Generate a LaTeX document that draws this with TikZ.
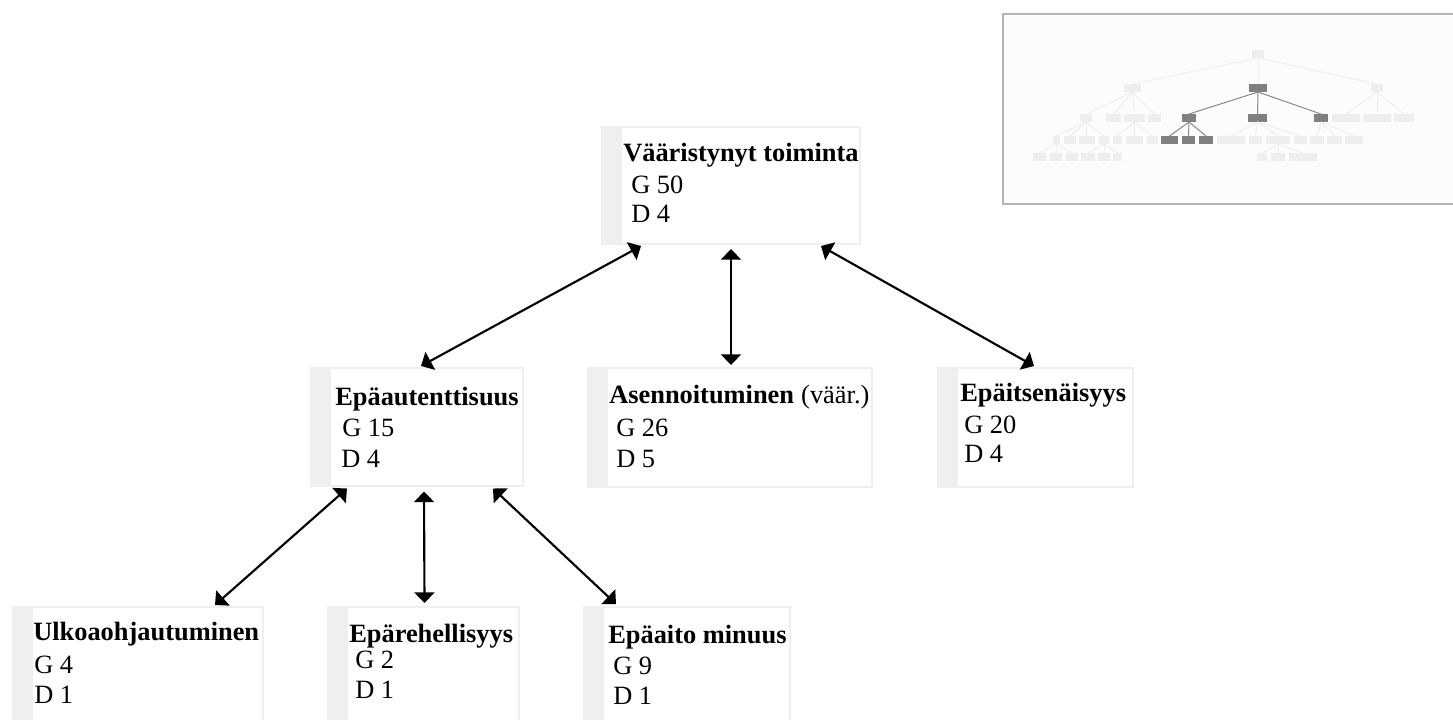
\documentclass[tikz,border=0pt]{standalone}
\usepackage{fontspec}
\setmainfont{Liberation Serif}
\usetikzlibrary{arrows.meta,calc}

\definecolor{kehys}{HTML}{EFEFEF}
\definecolor{minivaalea}{HTML}{EEEEEE}
\definecolor{minitumma}{HTML}{808080}
\definecolor{viivatumma}{HTML}{8A8A8A}
\definecolor{karttareuna}{HTML}{B4B4B4}
\definecolor{karttatausta}{HTML}{FCFCFC}

\tikzset{
  kbox/.style={draw=kehys, line width=1.5pt, fill=white, inner sep=0pt, outer sep=0pt,
    path picture={\fill[kehys] (path picture bounding box.south west) rectangle ([xshift=15pt]path picture bounding box.north west);}},
  otsikko/.style={anchor=base west, inner sep=0pt, font=\fontsize{19.8}{23}\selectfont\bfseries},
  luku/.style={anchor=base west, inner sep=0pt, font=\fontsize{19.8}{23}\selectfont},
  yhteys/.style={{Triangle[width=15pt,length=8pt]}-{Triangle[width=15pt,length=8pt]}, line width=1.6pt},
  mini/.style={rectangle, inner sep=0pt, outer sep=0pt, minimum height=6pt},
  miniviiva/.style={draw=minivaalea, line width=0.75pt},
}

\begin{document}
\begin{tikzpicture}[x=0.75pt,y=-0.75pt]
  \useasboundingbox (0,0) rectangle (1453,719);
  \fill[white] (0,0) rectangle (1453,719);

  % laatikot
  \path
  node[kbox, minimum width=193.5pt, minimum height=87.75pt] (vt) at (731,185.5) {}
  node[kbox, minimum width=159pt, minimum height=88.5pt] (ea) at (417,427) {}
  node[kbox, minimum width=213pt, minimum height=89.25pt] (as) at (730,427.5) {}
  node[kbox, minimum width=146.25pt, minimum height=89.25pt] (ei) at (1035.5,427.5) {}
  node[kbox, minimum width=187.5pt, minimum height=88.5pt] (ul) at (138,666) {}
  node[kbox, minimum width=143.25pt, minimum height=88.5pt] (eh) at (423.5,666) {}
  node[kbox, minimum width=154.5pt, minimum height=88.5pt] (em) at (687,666) {}
  ;

  % tekstit
  \foreach \n/\x/\y/\t in {vt/623/161/Vääristynyt toiminta, ea/335/405/Epäautenttisuus,
      as/609/403/Asennoituminen, ei/960/401/Epäitsenäisyys, ul/33/640/Ulkoaohjautuminen,
      eh/349/642/Epärehellisyys, em/608/643/Epäaito minuus}
    \node[otsikko] (\n-o) at (\x,\y) {\t};
  \node[luku, anchor=base west] (as-v) at (as-o.base east) {\ (väär.)};

  \foreach \n/\x/\y/\t in {vt-g/631/193/G 50, vt-d/631/222/D 4,
      ea-g/342/436/G 15, ea-d/341/467/D 4,
      as-g/616/436/G 26, as-d/616/467/D 5,
      ei-g/964/433/G 20, ei-d/964/462/D 4,
      ul-g/34/673/G 4, ul-d/34/703/D 1,
      eh-g/355/668/G 2, eh-d/355/698/D 1,
      em-g/613/674/G 9, em-d/613/704/D 1}
    \node[luku] (\n) at (\x,\y) {\t};

  % yhteydet
  \draw[yhteys] ($(vt.south)+(-90,2)$) -- ($(ea.north)+(4,-2)$);
  \draw[yhteys] ($(vt.south)+(0,5)$) -- ($(as.north)+(1,-3)$);
  \draw[yhteys] ($(vt.south)+(90,2)$) -- ($(ei.north)+(-1.5,-2)$);
  \draw[yhteys] ($(ea.south)+(-70,2.5)$) -- ($(ul.north)+(77,-2)$);
  \draw[yhteys] ($(ea.south)+(7,5.5)$) -- ($(eh.north)+(1,-4)$);
  \draw[yhteys] ($(ea.south)+(76,2.5)$) -- ($(em.north)+(-71,-3)$);

  % pienoiskartta
  \draw[karttareuna, fill=karttatausta, line width=1.5pt] (1003,14) rectangle (1470,204);
  \foreach \n/\a/\b/\y/\v in {r/1252/1264/50/minivaalea,
      a/1124/1141/84/minivaalea, b/1249/1267/84/minitumma, c/1371/1383/84/minivaalea,
      a1/1080/1092/114/minivaalea, a2/1106/1121/114/minivaalea, a3/1124/1145/114/minivaalea,
      a4/1148/1161/114/minivaalea, b1/1182/1196/114/minitumma, b2/1248/1267/114/minitumma,
      b3/1314/1328/114/minitumma, c1/1332/1360/114/minivaalea, c2/1363/1391/114/minivaalea,
      c3/1394/1414/114/minivaalea,
      a11/1053/1060/136/minivaalea, a12/1064/1076/136/minivaalea, a13/1079/1095/136/minivaalea,
      a14/1099/1109/136/minivaalea, a31/1113/1122/136/minivaalea, a32/1126/1143/136/minivaalea,
      a33/1147/1158/136/minivaalea, b11/1161/1178/136/minitumma, b12/1182/1195/136/minitumma,
      b13/1199/1213/136/minitumma, b21/1217/1245/136/minivaalea, b22/1249/1262/136/minivaalea,
      b23/1266/1290/136/minivaalea, b24/1294/1307/136/minivaalea, b31/1310/1324/136/minivaalea,
      b32/1327/1342/136/minivaalea, b33/1345/1363/136/minivaalea,
      a111/1033/1046/153/minivaalea, a112/1050/1062/153/minivaalea, a113/1066/1078/153/minivaalea,
      a141/1081/1095/153/minivaalea, a142/1098/1110/153/minivaalea, a143/1113/1122/153/minivaalea,
      b231/1257/1267/153/minivaalea, b232/1271/1285/153/minivaalea, b233/1289/1317/153/minivaalea}
  {
    \pgfmathsetmacro\w{(\b-\a)*0.75}
    \node[mini, fill=\v, minimum width=\w pt] (\n) at ({(\a+\b)/2},{\y+4}) {};
  }
  \foreach \p/\c in {r/a, r/b, r/c, a/a1, a/a2, a/a3, a/a4, c/c1, c/c2, c/c3,
      a1/a11, a1/a12, a1/a13, a1/a14, a3/a31, a3/a32, a3/a33,
      b2/b21, b2/b22, b2/b23, b2/b24, b3/b31, b3/b32, b3/b33,
      a11/a111, a11/a112, a11/a113, a14/a141, a14/a142, a14/a143,
      b23/b231, b23/b232, b23/b233}
    \draw[miniviiva] (\p.south) -- (\c.north);
  \foreach \p/\c in {b/b1, b/b2, b/b3, b1/b11, b1/b12, b1/b13}
    \draw[draw=viivatumma, line width=0.75pt] (\p.south) -- (\c.north);
\end{tikzpicture}
\end{document}
